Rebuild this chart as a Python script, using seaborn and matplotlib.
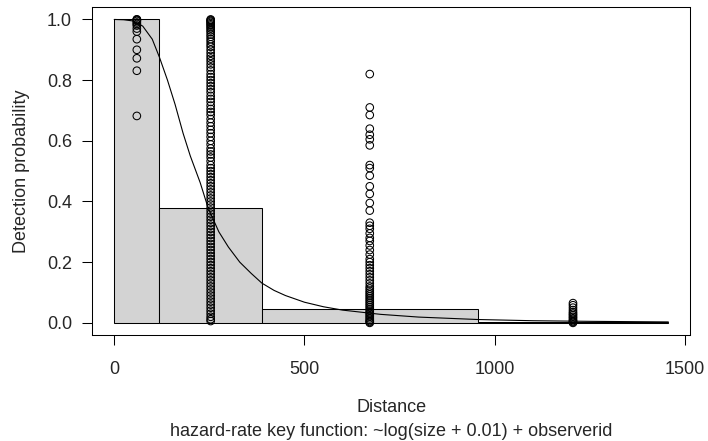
import matplotlib
matplotlib.use("Agg")
import matplotlib.pyplot as plt
import seaborn as sns
import numpy as np
import pandas as pd

# ---- data ----
bin_edges = [0, 119, 388, 955, 1456]
bar_heights = [1.0, 0.378, 0.047, 0.004]

curve_x = [0, 25, 50, 75, 100, 119, 140, 160, 181, 200, 226, 247, 275, 300, 330,
           360, 388, 420, 450, 500, 550, 600, 700, 800, 955, 1100, 1250, 1456]
curve_y = [1.0, 0.999, 0.995, 0.978, 0.935, 0.875, 0.80, 0.72, 0.625, 0.55, 0.462,
           0.378, 0.30, 0.25, 0.20, 0.163, 0.131, 0.107, 0.09, 0.068, 0.053, 0.042,
           0.028, 0.019, 0.011, 0.007, 0.005, 0.003]

dist_1 = 59.5
p_1 = [1.0, 1.0, 0.998, 0.995, 0.99, 0.985, 0.98, 0.97, 0.96, 0.935, 0.90, 0.872,
       0.831, 0.682]

dist_2 = 253.5
p_2 = [1.0, 0.998, 0.995, 0.992, 0.988, 0.984, 0.98, 0.975, 0.97, 0.964, 0.958,
       0.95, 0.943, 0.935, 0.927, 0.918, 0.91, 0.90, 0.89, 0.88, 0.871, 0.862,
       0.852, 0.842, 0.832, 0.82, 0.81, 0.80, 0.79, 0.78, 0.77, 0.76, 0.748,
       0.738, 0.728, 0.716, 0.705, 0.695, 0.685, 0.672, 0.66, 0.648, 0.636, 0.625,
       0.613, 0.60, 0.588, 0.575, 0.565, 0.555, 0.545, 0.533, 0.52, 0.51, 0.50,
       0.49, 0.48, 0.47, 0.46, 0.45, 0.44, 0.43, 0.42, 0.41, 0.40, 0.39, 0.38,
       0.37, 0.36, 0.35, 0.34, 0.33, 0.32, 0.31, 0.30, 0.29, 0.28, 0.27, 0.26,
       0.25, 0.24, 0.23, 0.22, 0.21, 0.20, 0.19, 0.18, 0.17, 0.16, 0.15, 0.14,
       0.13, 0.12, 0.11, 0.10, 0.09, 0.08, 0.07, 0.06, 0.05, 0.04, 0.03, 0.02,
       0.012, 0.006]

dist_3 = 671.5
p_3 = [0.82, 0.71, 0.685, 0.64, 0.62, 0.605, 0.585, 0.52, 0.51, 0.485, 0.45,
       0.425, 0.395, 0.37, 0.33, 0.32, 0.31, 0.295, 0.28, 0.27, 0.255, 0.24,
       0.225, 0.21, 0.20, 0.19, 0.18, 0.17, 0.16, 0.15, 0.14, 0.13, 0.12, 0.113,
       0.106, 0.10, 0.094, 0.088, 0.082, 0.076, 0.07, 0.064, 0.058, 0.052, 0.046,
       0.04, 0.035, 0.03, 0.025, 0.02, 0.015, 0.01, 0.006, 0.003, 0.0]

dist_4 = 1205.5
p_4 = [0.065, 0.058, 0.05, 0.042, 0.035, 0.03, 0.025, 0.02, 0.015, 0.01, 0.006,
       0.003, 0.0]

x_ticks = [0, 500, 1000, 1500]
y_ticks = [0.0, 0.2, 0.4, 0.6, 0.8, 1.0]
x_label = "Distance"
y_label = "Detection probability"
subtitle = "hazard-rate key function: ~log(size + 0.01) + observerid"

# ---- build frames ----
mids = [(a + b) / 2 for a, b in zip(bin_edges[:-1], bin_edges[1:])]
bars_df = pd.DataFrame({"mid": mids, "h": bar_heights})
curve_df = pd.DataFrame({"x": curve_x, "y": curve_y})
pts_df = pd.concat([
    pd.DataFrame({"d": dist_1, "p": p_1}),
    pd.DataFrame({"d": dist_2, "p": p_2}),
    pd.DataFrame({"d": dist_3, "p": p_3}),
    pd.DataFrame({"d": dist_4, "p": p_4}),
], ignore_index=True)

sns.set_style("white")
plt.rcParams["font.family"] = ["Liberation Sans", "DejaVu Sans"]

fig = plt.figure(figsize=(7.08, 4.41), dpi=100)
ax = fig.add_axes([0.130, 0.2404, 0.8446, 0.743])

sns.histplot(data=bars_df, x="mid", weights="h", bins=bin_edges, stat="count",
             color="#D3D3D3", alpha=1.0, edgecolor="black", linewidth=0.75,
             ax=ax)
sns.lineplot(data=curve_df, x="x", y="y", color="black", linewidth=0.8,
             ax=ax)
sns.scatterplot(data=pts_df, x="d", y="p", marker="o", s=30,
                facecolor="none", edgecolor="black", linewidth=0.75, ax=ax,
                zorder=5)

ax.set_xlim(-58.2, 1513)
ax.set_ylim(-0.04, 1.04)
ax.set_xticks(x_ticks)
ax.set_xticklabels([str(v) for v in x_ticks])
ax.set_yticks(y_ticks)
ax.set_yticklabels([f"{v:.1f}" for v in y_ticks])
ax.tick_params(axis="both", direction="out", length=7, width=0.75,
               color="black", labelsize=13, bottom=True, left=True)
ax.tick_params(axis="x", pad=12)
ax.tick_params(axis="y", pad=7.5)
for s in ax.spines.values():
    s.set_color("black")
    s.set_linewidth(0.75)
    s.set_visible(True)

ax.set_xlabel("")
ax.set_ylabel(y_label, fontsize=13, labelpad=12)
fig.text(0.5525, 1 - 408 / 441, x_label, ha="center", va="center", fontsize=13)
fig.text(0.5525, 1 - 431 / 441, subtitle, ha="center", va="center", fontsize=13)

fig.savefig("out.png", dpi=100)
